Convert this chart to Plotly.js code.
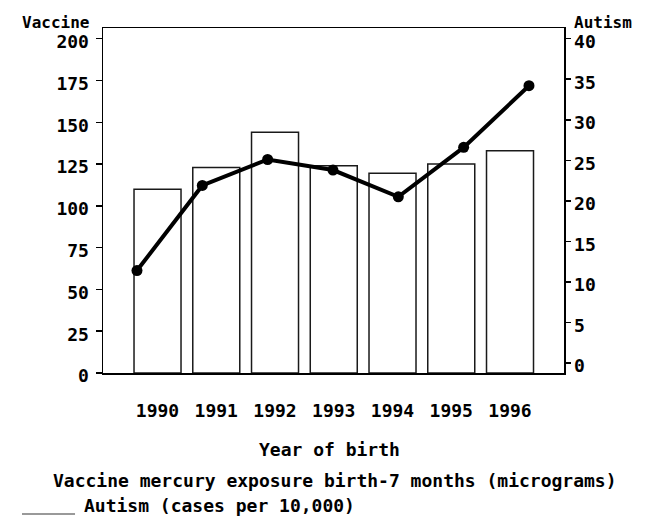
<!DOCTYPE html>
<html>
<head>
<meta charset="utf-8">
<script src="https://cdn.plot.ly/plotly-3.0.1.min.js"></script>
<style>html,body{margin:0;padding:0;background:#fff;}#chart{width:649px;height:516px;}</style>
</head>
<body>
<div id="chart"></div>
<script>
// Data
const years = [1990, 1991, 1992, 1993, 1994, 1995, 1996];
const yearLabels = ["1990", "1991", "1992", "1993", "1994", "1995", "1996"];
const mercuryMicrograms = [110, 123, 144, 124, 119.5, 125, 133];
const autismPer10000 = [11.4, 21.9, 25.1, 23.8, 20.5, 26.6, 34.2];
const leftTicks = [0, 25, 50, 75, 100, 125, 150, 175, 200];
const rightTicks = [0, 5, 10, 15, 20, 25, 30, 35, 40];

const FONT = "DejaVu Sans Mono, monospace";
const tickFont = {family: FONT, size: 18, color: "#000", weight: "bold"};

const traces = [
  {
    type: "bar",
    x: years,
    y: mercuryMicrograms,
    width: 0.8,
    marker: {color: "#ffffff", line: {color: "#1a1a1a", width: 1.5}},
    xaxis: "x",
    yaxis: "y",
    name: "Vaccine mercury exposure birth-7 months (micrograms)",
    hoverinfo: "x+y"
  },
  {
    type: "scatter",
    mode: "lines+markers",
    x: years,
    y: autismPer10000,
    line: {color: "#000", width: 4},
    marker: {color: "#000", size: 11},
    xaxis: "x2",
    yaxis: "y2",
    name: "Autism (cases per 10,000)"
  }
];

const layout = {
  width: 649,
  height: 516,
  margin: {l: 103, r: 85, t: 28, b: 143},
  paper_bgcolor: "#fff",
  plot_bgcolor: "#fff",
  showlegend: false,
  font: {family: FONT, size: 18, color: "#000", weight: "bold"},
  xaxis: {
    range: [1989.072, 1996.919],
    tickvals: years,
    ticktext: yearLabels,
    ticks: "",
    showgrid: false,
    zeroline: false,
    showline: true,
    linecolor: "#000",
    linewidth: 1.5,
    mirror: true,
    tickfont: tickFont,
    ticklabelstandoff: 21,
    fixedrange: true
  },
  xaxis2: {
    range: [1989.48, 1996.536],
    overlaying: "x",
    visible: false,
    fixedrange: true
  },
  yaxis: {
    range: [0, 206.4],
    tickvals: leftTicks,
    ticks: "outside",
    ticklen: 6,
    tickwidth: 1.5,
    tickcolor: "#000",
    showgrid: false,
    zeroline: false,
    showline: true,
    linecolor: "#000",
    linewidth: 1.5,
    tickfont: tickFont,
    ticklabelshift: 3,
    ticklabelstandoff: 3,
    fixedrange: true
  },
  yaxis2: {
    range: [-1.23, 41.32],
    tickvals: rightTicks,
    overlaying: "y",
    side: "right",
    ticks: "outside",
    ticklen: 5,
    tickwidth: 1.5,
    tickcolor: "#000",
    showgrid: false,
    zeroline: false,
    showline: true,
    linecolor: "#000",
    linewidth: 1.5,
    tickfont: tickFont,
    ticklabelshift: 3,
    ticklabelstandoff: 0,
    fixedrange: true
  },
  annotations: [
    {text: "Vaccine", xref: "paper", yref: "paper", x: 0, y: 1, xanchor: "right", yanchor: "middle",
     xshift: -12, yshift: 6, showarrow: false, font: {family: FONT, size: 16, color: "#000", weight: "bold"}},
    {text: "Autism", xref: "paper", yref: "paper", x: 1, y: 1, xanchor: "left", yanchor: "middle",
     xshift: 8, yshift: 6, showarrow: false, font: {family: FONT, size: 16, color: "#000", weight: "bold"}},
    {text: "Year of birth", xref: "paper", yref: "paper", x: 0.5, y: 0, xanchor: "center", yanchor: "middle",
     xshift: -4, yshift: -76, showarrow: false, font: {family: FONT, size: 18, color: "#000", weight: "bold"}},
    {text: "Vaccine mercury exposure birth-7 months (micrograms)", xref: "paper", yref: "paper", x: 0.5, y: 0,
     xanchor: "center", yanchor: "middle", xshift: 1.5, yshift: -107, showarrow: false,
     font: {family: FONT, size: 18, color: "#000", weight: "bold"}},
    {text: "Autism (cases per 10,000)", xref: "paper", yref: "paper", x: 0, y: 0, xanchor: "left", yanchor: "middle",
     xshift: -21, yshift: -132, showarrow: false, font: {family: FONT, size: 18, color: "#000", weight: "bold"}}
  ],
  shapes: [
    {type: "line", xref: "paper", yref: "paper", x0: -0.1757, x1: -0.0607, y0: -0.4087, y1: -0.4087,
     line: {color: "#999", width: 2}}
  ]
};

Plotly.newPlot("chart", traces, layout, {displayModeBar: false, staticPlot: true});
</script>
</body>
</html>
